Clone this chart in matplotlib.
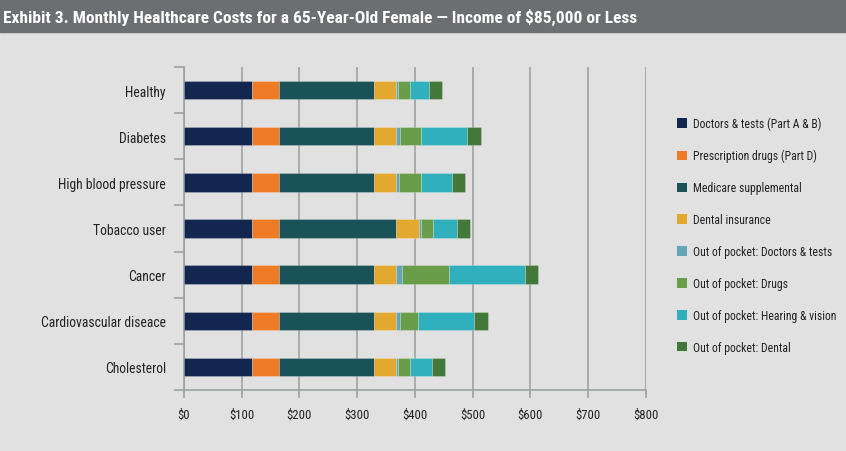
import numpy as np
import matplotlib
matplotlib.use("Agg")
import matplotlib.pyplot as plt
from matplotlib.patches import Patch
from matplotlib import font_manager

# condensed fonts look closest to the original; take whatever is installed
installed = {f.name for f in font_manager.fontManager.ttflist}
family = "DejaVu Sans"
for cand in ["Liberation Sans Narrow", "DejaVu Sans Condensed", "Roboto Condensed", "Roboto"]:
    if cand in installed:
        family = cand
        break
plt.rcParams['font.family'] = [family, 'DejaVu Sans']

conditions = ["Healthy", "Diabetes", "High blood pressure", "Tobacco user",
              "Cancer", "Cardiovascular diseace", "Cholesterol"]

series_names = ["Doctors & tests (Part A & B)", "Prescription drugs (Part D)",
                "Medicare supplemental", "Dental insurance",
                "Out of pocket: Doctors & tests", "Out of pocket: Drugs",
                "Out of pocket: Hearing & vision", "Out of pocket: Dental"]

doctors_ab = [118, 118, 118, 118, 118, 118, 118]
drugs_d = [46, 46, 46, 46, 46, 46, 46]
medicare_supp = [165, 165, 165, 204, 165, 165, 165]
dental_ins = [39, 39, 39, 40, 39, 39, 39]
oop_doctors = [2, 6, 5, 2, 10, 6, 2]
oop_drugs = [22, 37, 37, 22, 82, 32, 22]
oop_hearing = [32, 79, 55, 41, 131, 97, 38]
oop_dental = [23, 24, 22, 23, 23, 23, 23]

colors = ["#13264f", "#ee7b26", "#1a5357", "#e2a830",
          "#64a6b8", "#6a9d49", "#2fb0bc", "#44783a"]

xticks = [0, 100, 200, 300, 400, 500, 600, 700, 800]
title = "Exhibit 3. Monthly Healthcare Costs for a 65-Year-Old Female \u2014 Income of $85,000 or Less"

bg = "#e1e1e1"
grid_c = "#9ca2a2"

fig = plt.figure(figsize=(8.46, 4.52), dpi=100, facecolor=bg)
renderer = fig.canvas.get_renderer()


def fit_size(s, width_px, weight="normal"):
    t = fig.text(0, 0, s, fontsize=10, fontweight=weight)
    w = t.get_window_extent(renderer).width
    t.remove()
    return 10 * width_px / w


ylab_fs = fit_size("Cardiovascular diseace", 125)
tick_fs = fit_size("$100", 25)
leg_fs = fit_size("Doctors & tests (Part A & B)", 128)
title_fs = fit_size(title, 633, "bold")

ax = fig.add_axes([0.2175, 0.135, 0.5457, 0.7146], facecolor=bg)

# title band
fig.patches.append(plt.Rectangle((0, 1 - 33 / 452), 1, 33 / 452, transform=fig.transFigure,
                                 color="#6d6e71", zorder=0))
fig.text(0.004, 1 - 17 / 452, title, color="white", fontsize=title_fs,
         fontweight="bold", va="center", ha="left")

ypos = np.arange(len(conditions))
stack = [doctors_ab, drugs_d, medicare_supp, dental_ins,
         oop_doctors, oop_drugs, oop_hearing, oop_dental]
left = np.zeros(len(conditions))
handles = []
for vals, col, name in zip(stack, colors, series_names):
    ax.barh(ypos, vals, left=left, height=0.4, color=col, edgecolor=(1, 1, 1, 0.25),
            linewidth=0.6, zorder=3)
    left += np.array(vals)
    handles.append(Patch(facecolor=col, label=name))

ax.set_xlim(0, 800)
ax.set_ylim(len(conditions) - 0.5, -0.5)
ax.set_xticks(xticks)
ax.set_xticklabels(["$%d" % v for v in xticks])
ax.set_yticks(ypos)
ax.set_yticklabels(conditions)
ax.set_yticks(np.arange(-0.5, len(conditions)), minor=True)
ax.tick_params(axis="y", which="major", length=0, pad=13, labelsize=ylab_fs, labelcolor="#222222")
ax.tick_params(axis="y", which="minor", length=7, width=1.2, color=grid_c)
ax.tick_params(axis="x", length=6, width=1.2, color=grid_c, pad=7, labelsize=tick_fs, labelcolor="#222222")

ax.grid(axis="x", color=grid_c, linewidth=1.2, zorder=0)
for s in ["top", "right"]:
    ax.spines[s].set_visible(False)
for s in ["left", "bottom"]:
    ax.spines[s].set_color(grid_c)
    ax.spines[s].set_linewidth(1.2)

fig.legend(handles=handles, loc="upper left", bbox_to_anchor=(0.795, 0.75),
           frameon=False, fontsize=leg_fs, handlelength=0.85, handleheight=0.85,
           handletextpad=0.45, labelspacing=1.6, borderaxespad=0, labelcolor="#222222")

fig.savefig("out.png", dpi=100, facecolor=bg)
